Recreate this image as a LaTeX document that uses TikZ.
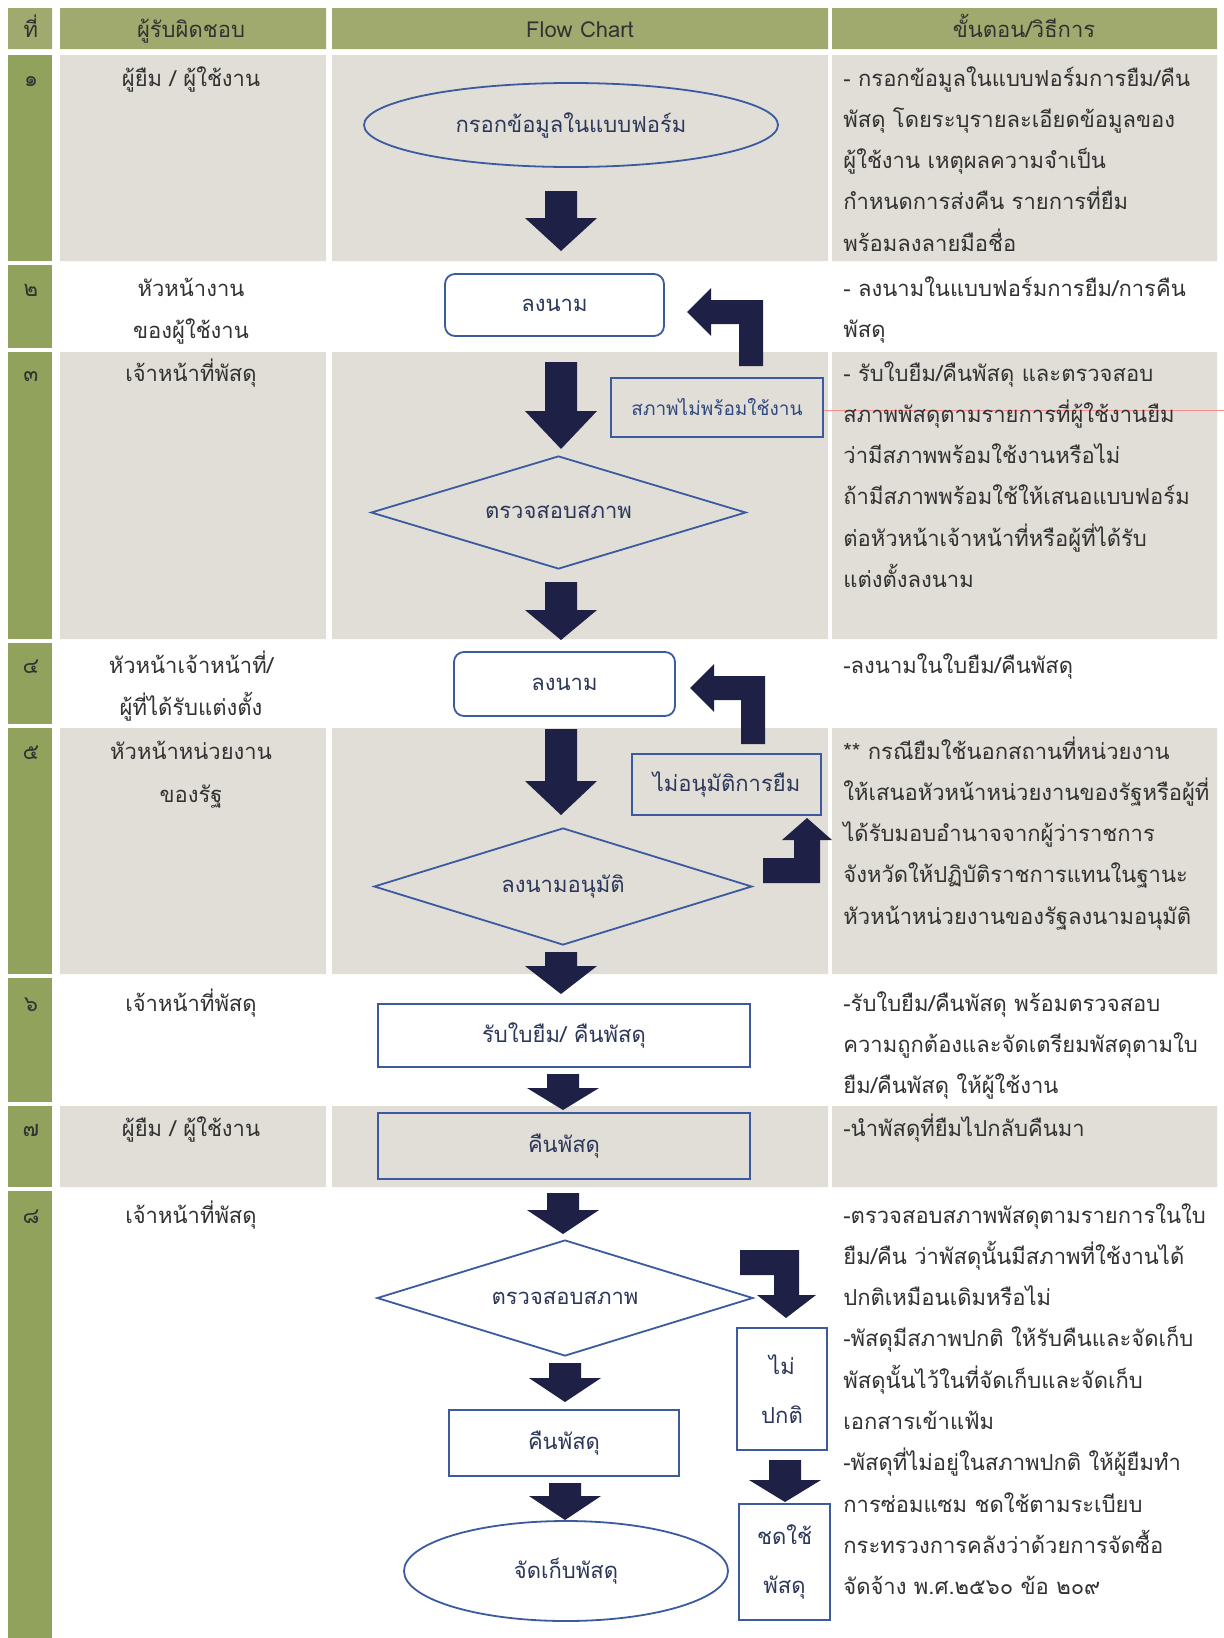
\documentclass[tikz,border=0pt]{standalone}
\usepackage{fontspec}
\setmainfont[Script=Thai]{Loma}
\usetikzlibrary{shapes.geometric}
\definecolor{hdr}{RGB}{160,170,110}
\definecolor{lcol}{RGB}{145,162,92}
\definecolor{cellgray}{RGB}{224,222,215}
\definecolor{nodeline}{RGB}{60,90,160}
\definecolor{afill}{RGB}{30,32,70}
\definecolor{txt}{RGB}{50,50,50}
\definecolor{ntxt}{RGB}{45,55,90}
\newcommand\fsz{\fontsize{11}{13}\selectfont}
% block arrow pointing down: x, ytop, ybottom, head length
\newcommand\bdown[4]{\fill[afill] (#1-16,#2) -- (#1+16,#2) -- (#1+16,#3-#4) -- (#1+36,#3-#4) -- (#1,#3) -- (#1-36,#3-#4) -- (#1-16,#3-#4) -- cycle;}
% text lines, left aligned, one per line
\newcommand\tblock[4]{\foreach \ln [count=\i from 0] in {#4} {\node[coltext] (#1-\i) at (#2,#3+\i*41.3) {\ln};}}
\begin{document}
\begin{tikzpicture}[x=0.5pt,y=-0.5pt,
  coltext/.style={font=\fsz, text=txt, inner sep=0pt, anchor=base west},
  ctext/.style={font=\fsz, text=txt, inner sep=0pt, anchor=base},
  fnode/.style={draw=nodeline, line width=0.9pt, text=ntxt, font=\fsz, inner sep=0pt, align=center},
  rbox/.style={fnode, rectangle, rounded corners=5pt},
  sbox/.style={fnode, rectangle},
  ell/.style={fnode, ellipse},
  dia/.style={fnode, diamond, aspect=3.3}]
\useasboundingbox (0,0) rectangle (1224,1638);
\fill[white] (0,0) rectangle (1224,1638);
% header
\fill[hdr] (8,8) rectangle (52,49) (60,8) rectangle (326,49) (332,8) rectangle (828,49) (832,8) rectangle (1217,49);
% left column
\foreach \a/\b in {55/261,265/348,352/639,643/724,728/974,978/1102,1106/1187,1191/1638}
  \fill[lcol] (8,\a) rectangle (52,\b);
% gray rows
\foreach \a/\b in {55/261,352/639,728/974,1106/1187}
  \fill[cellgray] (60,\a) rectangle (326,\b) (332,\a) rectangle (828,\b) (832,\a) rectangle (1217,\b);
\draw[red!45, line width=0.3pt] (823,410) -- (1224,410);
% header texts
\node[ctext] (h1) at (31,37) {ที่};
\node[ctext] (h2) at (191,37) {ผู้รับผิดชอบ};
\node[ctext] (h3) at (580,37) {Flow Chart};
\node[ctext] (h4) at (1024,37) {ขั้นตอน/วิธีการ};
% row numbers
\node[ctext] (n1) at (31,86) {๑};
\node[ctext] (n2) at (31,296) {๒};
\node[ctext] (n3) at (31,381) {๓};
\node[ctext] (n4) at (31,673) {๔};
\node[ctext] (n5) at (31,759) {๕};
\node[ctext] (n6) at (31,1011) {๖};
\node[ctext] (n7) at (31,1136) {๗};
\node[ctext] (n8) at (31,1223) {๘};
% responsible
\node[ctext] (p1) at (191,86) {ผู้ยืม / ผู้ใช้งาน};
\node[ctext] (p2a) at (191,296) {หัวหน้างาน};
\node[ctext] (p2b) at (191,338) {ของผู้ใช้งาน};
\node[ctext] (p3) at (191,381) {เจ้าหน้าที่พัสดุ};
\node[ctext] (p4a) at (191,673) {หัวหน้าเจ้าหน้าที่/};
\node[ctext] (p4b) at (191,715) {ผู้ที่ได้รับแต่งตั้ง};
\node[ctext] (p5a) at (191,759) {หัวหน้าหน่วยงาน};
\node[ctext] (p5b) at (191,802) {ของรัฐ};
\node[ctext] (p6) at (191,1011) {เจ้าหน้าที่พัสดุ};
\node[ctext] (p7) at (191,1136) {ผู้ยืม / ผู้ใช้งาน};
\node[ctext] (p8) at (191,1223) {เจ้าหน้าที่พัสดุ};
% procedures
\tblock{d1}{843}{86}{- กรอกข้อมูลในแบบฟอร์มการยืม/คืน, พัสดุ โดยระบุรายละเอียดข้อมูลของ, ผู้ใช้งาน เหตุผลความจำเป็น, กำหนดการส่งคืน รายการที่ยืม, พร้อมลงลายมือชื่อ}
\tblock{d2}{843}{296}{- ลงนามในแบบฟอร์มการยืม/การคืน, พัสดุ}
\tblock{d3}{843}{381}{- รับใบยืม/คืนพัสดุ และตรวจสอบ, สภาพพัสดุตามรายการที่ผู้ใช้งานยืม, ว่ามีสภาพพร้อมใช้งานหรือไม่, ถ้ามีสภาพพร้อมใช้ให้เสนอแบบฟอร์ม, ต่อหัวหน้าเจ้าหน้าที่หรือผู้ที่ได้รับ, แต่งตั้งลงนาม}
\tblock{d4}{843}{673}{-ลงนามในใบยืม/คืนพัสดุ}
\tblock{d5}{843}{759}{** กรณียืมใช้นอกสถานที่หน่วยงาน, ให้เสนอหัวหน้าหน่วยงานของรัฐหรือผู้ที่, ได้รับมอบอำนาจจากผู้ว่าราชการ, จังหวัดให้ปฏิบัติราชการแทนในฐานะ, หัวหน้าหน่วยงานของรัฐลงนามอนุมัติ}
\tblock{d6}{843}{1011}{-รับใบยืม/คืนพัสดุ พร้อมตรวจสอบ, ความถูกต้องและจัดเตรียมพัสดุตามใบ, ยืม/คืนพัสดุ ให้ผู้ใช้งาน}
\tblock{d7}{843}{1136}{-นำพัสดุที่ยืมไปกลับคืนมา}
\tblock{d8}{843}{1223}{-ตรวจสอบสภาพพัสดุตามรายการในใบ, ยืม/คืน ว่าพัสดุนั้นมีสภาพที่ใช้งานได้, ปกติเหมือนเดิมหรือไม่, -พัสดุมีสภาพปกติ ให้รับคืนและจัดเก็บ, พัสดุนั้นไว้ในที่จัดเก็บและจัดเก็บ, เอกสารเข้าแฟ้ม, -พัสดุที่ไม่อยู่ในสภาพปกติ ให้ผู้ยืมทำ, การซ่อมแซม ชดใช้ตามระเบียบ, กระทรวงการคลังว่าด้วยการจัดซื้อ, จัดจ้าง พ.ศ.๒๕๖๐ ข้อ ๒๐๙}
% flow nodes
\node[ell, minimum width=207pt, minimum height=42pt] (e1) at (571,125) {กรอกข้อมูลในแบบฟอร์ม};
\node[rbox, minimum width=109.5pt, minimum height=31pt] (r2) at (554.5,305) {ลงนาม};
\node[sbox, minimum width=106pt, minimum height=29.5pt, font=\fontsize{9.5}{11}\selectfont, text=nodeline!80!black] (x3) at (717,407.5) {สภาพไม่พร้อมใช้งาน};
\node[dia, minimum width=187.5pt, minimum height=56.5pt] (d3) at (558.5,512.5) {ตรวจสอบสภาพ};
\node[rbox, minimum width=110.5pt, minimum height=32pt] (r4) at (564.5,684) {ลงนาม};
\node[sbox, minimum width=94.5pt, minimum height=30.5pt] (x5) at (726.5,784.5) {ไม่อนุมัติการยืม};
\node[dia, minimum width=189pt, minimum height=58.5pt] (d5) at (563,886.5) {ลงนามอนุมัติ};
\node[sbox, minimum width=186pt, minimum height=31.5pt] (r6) at (564,1035.5) {รับใบยืม/ คืนพัสดุ};
\node[sbox, minimum width=186pt, minimum height=33pt] (r7) at (564,1146) {คืนพัสดุ};
\node[dia, minimum width=188pt, minimum height=58pt] (d8) at (565,1298) {ตรวจสอบสภาพ};
\node[sbox, minimum width=45pt, minimum height=61pt, font=\fontsize{11}{24.5}\selectfont] (x8a) at (782,1389) {ไม่\\ปกติ};
\node[sbox, minimum width=115pt, minimum height=33pt] (r8) at (564,1443) {คืนพัสดุ};
\node[ell, minimum width=162pt, minimum height=50pt] (e8) at (566,1571) {จัดเก็บพัสดุ};
\node[sbox, minimum width=45.5pt, minimum height=58pt, font=\fontsize{11}{24.5}\selectfont] (x8b) at (784.5,1562) {ชดใช้\\พัสดุ};
% down block arrows
\bdown{561}{191}{251}{33}
\bdown{561}{362}{449}{38}
\bdown{561}{582}{640}{30}
\bdown{561}{729}{815}{34}
\bdown{561}{952}{994}{28}
\bdown{563}{1074}{1110}{22}
\bdown{563}{1193}{1234}{24}
\bdown{565}{1363}{1402}{24}
\bdown{565}{1483}{1520}{24}
\bdown{785}{1460}{1502}{22}
% bent arrows
\fill[afill] (763,366) -- (763,300) -- (711,300) -- (711,288) -- (687,312) -- (711,336) -- (711,324) -- (739,324) -- (739,366) -- cycle;
\fill[afill] (765,744) -- (765,676) -- (714,676) -- (714,664) -- (690,688) -- (714,712) -- (714,700) -- (741,700) -- (741,744) -- cycle;
\fill[afill] (763,883) -- (763,858) -- (794,858) -- (794,840) -- (782,840) -- (807,818) -- (832,840) -- (820,840) -- (820,883) -- cycle;
\fill[afill] (740,1250) -- (799,1250) -- (799,1295) -- (816,1295) -- (786,1318) -- (757,1295) -- (774,1295) -- (774,1275) -- (740,1275) -- cycle;
\end{tikzpicture}
\end{document}
